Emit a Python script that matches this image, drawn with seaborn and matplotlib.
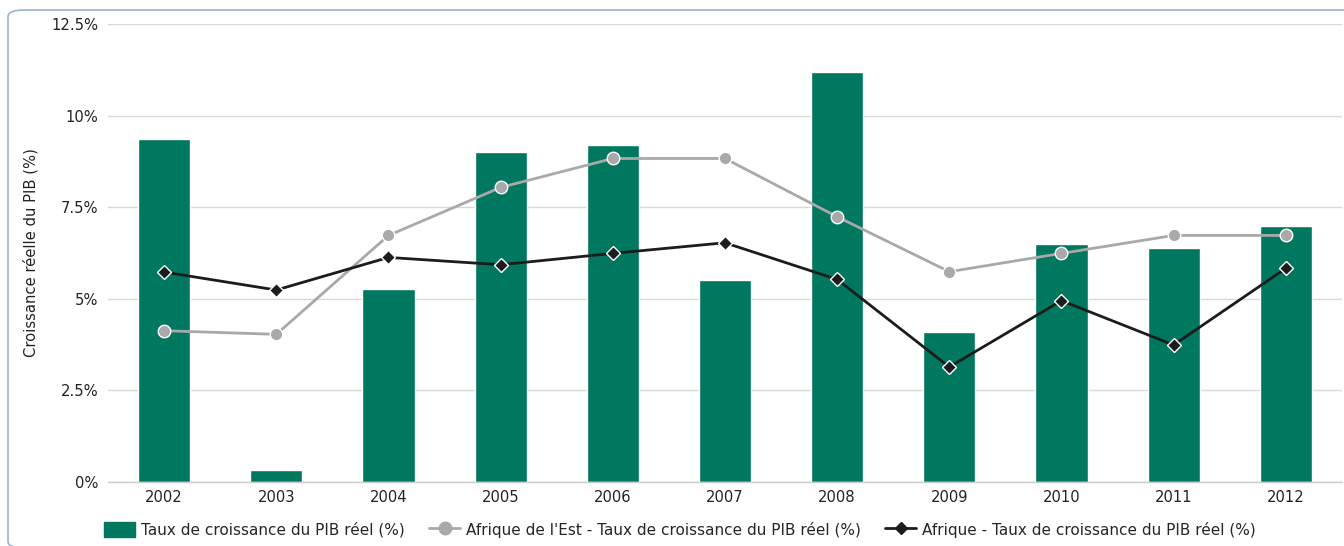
import pandas as pd
import numpy as np
import matplotlib.pyplot as plt
import seaborn as sns
from matplotlib.patches import FancyBboxPatch
from matplotlib.lines import Line2D
from matplotlib.patches import Patch

# values
years = ['2002', '2003', '2004', '2005', '2006', '2007', '2008', '2009', '2010', '2011', '2012']
pib_reel = [9.36, 0.32, 5.28, 9.0, 9.2, 5.5, 11.18, 4.1, 6.5, 6.4, 6.98]
afrique_est = [4.13, 4.03, 6.73, 8.04, 8.83, 8.83, 7.24, 5.74, 6.24, 6.73, 6.73]
afrique = [5.73, 5.24, 6.13, 5.93, 6.24, 6.53, 5.53, 3.14, 4.95, 3.74, 5.83]

label_bar = 'Taux de croissance du PIB réel (%)'
label_est = "Afrique de l'Est - Taux de croissance du PIB réel (%)"
label_afr = 'Afrique - Taux de croissance du PIB réel (%)'

green = '#00785f'
grey = '#a9a9aa'
black = '#1c1c1c'

sns.set_style('white')
plt.rcParams['font.family'] = ['DejaVu Sans']

df = pd.DataFrame({'annee': years, 'pib': pib_reel})

fig = plt.figure(figsize=(13.44, 5.46), dpi=100)
ax = fig.add_axes([0.0804, 0.1172, 0.918, 0.8388])

# rounded frame around the chart
frame = FancyBboxPatch((8 / 1344, 1 - 548 / 546), 1400 / 1344, (548 - 10) / 546,
                       boxstyle='round,pad=0,rounding_size=0.012', transform=fig.transFigure,
                       facecolor='none', edgecolor='#9db3d0', linewidth=1.2, clip_on=False)
fig.patches.append(frame)

ax.set_axisbelow(True)
ax.yaxis.grid(True, color='#d9d9d9', linewidth=1)

sns.barplot(data=df, x='annee', y='pib', color=green, saturation=1, width=0.465,
            edgecolor='white', linewidth=1, ax=ax, zorder=2)

ax.plot(years, afrique_est, color=grey, linewidth=2, marker='o', markersize=9,
        markerfacecolor=grey, markeredgecolor='white', markeredgewidth=1, zorder=3)
ax.plot(years, afrique, color=black, linewidth=2, marker='D', markersize=7,
        markerfacecolor=black, markeredgecolor='white', markeredgewidth=1, zorder=4)

ax.set_ylim(0, 12.5)
ax.set_xlim(-0.5, len(years) - 0.5)
yt = [0, 2.5, 5, 7.5, 10, 12.5]
ax.set_yticks(yt)
ax.set_yticklabels(['0%', '2.5%', '5%', '7.5%', '10%', '12.5%'])
ax.set_xticks(np.arange(-0.5, len(years), 1), minor=True)
ax.tick_params(axis='x', which='major', length=0, labelsize=10.6, pad=6, colors='#222222')
ax.tick_params(axis='x', which='minor', length=6, width=1, color='#cccccc', direction='out')
ax.tick_params(axis='y', length=0, labelsize=10.6, pad=7, colors='#222222')

for s in ['top', 'right', 'left']:
    ax.spines[s].set_visible(False)
ax.spines['bottom'].set_color('#cccccc')
ax.spines['bottom'].set_linewidth(1)

ax.set_xlabel('')
ax.set_ylabel('Croissance réelle du PIB (%)', fontsize=10.6, color='#222222', labelpad=9)

handles = [
    Patch(facecolor=green, edgecolor=green, label=label_bar),
    Line2D([0], [0], color=grey, linewidth=2, marker='o', markersize=9,
           markerfacecolor=grey, markeredgecolor=grey, label=label_est),
    Line2D([0], [0], color=black, linewidth=2, marker='D', markersize=6,
           markerfacecolor=black, markeredgecolor=black, label=label_afr),
]
fig.legend(handles=handles, loc='center', bbox_to_anchor=(0.506, 0.03), ncol=3,
           frameon=False, fontsize=11, handlelength=2.0, handleheight=1.1,
           columnspacing=1.6, handletextpad=0.4)

plt.savefig('out.png', dpi=100)
